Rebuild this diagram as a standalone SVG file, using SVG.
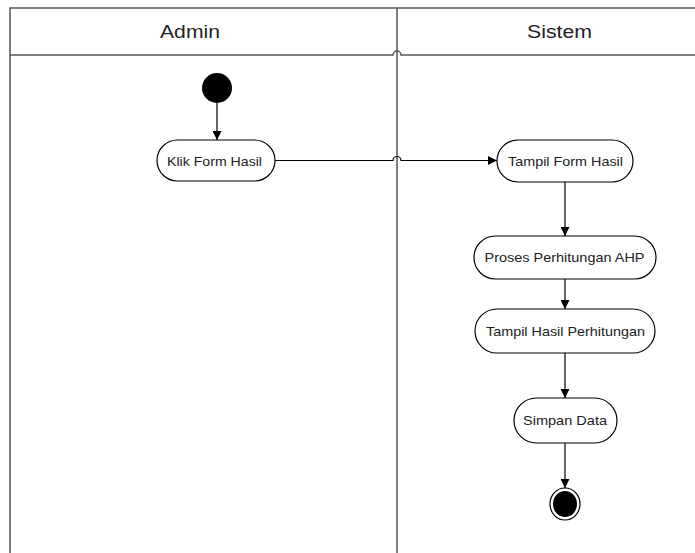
<svg xmlns="http://www.w3.org/2000/svg" width="695" height="553" viewBox="0 0 695 553">
<style>
.lane{fill:none;stroke:#555;stroke-width:1.5}
.node rect{fill:#fff;stroke:#000;stroke-width:1.2}
.node text{font-family:"Liberation Sans",Arial,sans-serif;font-size:13px;fill:#222;text-anchor:middle}
.hdr{font-family:"Liberation Sans",Arial,sans-serif;font-size:18px;fill:#222;text-anchor:middle}
.edge{fill:none;stroke:#000;stroke-width:1.2;marker-end:url(#arr)}
</style>
<defs>
<marker id="arr" viewBox="0 0 10 10" refX="10" refY="5" markerWidth="9" markerHeight="9" markerUnits="userSpaceOnUse" orient="auto">
<path d="M0 0 L10 5 L0 10 Z" fill="#000"/>
</marker>
</defs>
<rect x="0" y="0" width="695" height="553" fill="#fff"/>
<g id="lanes">
<path class="lane" d="M10 553 V8 H695"/>
<path class="lane" d="M10 55 H393 A4 4 0 0 1 401 55 H695"/>
<path class="lane" d="M397 8 V553"/>
<text class="hdr" x="190" y="37.5" textLength="60" lengthAdjust="spacingAndGlyphs">Admin</text>
<text class="hdr" x="559.5" y="37.5" textLength="65" lengthAdjust="spacingAndGlyphs">Sistem</text>
</g>
<g id="connectors">
<path class="edge" d="M217 103 V140"/>
<path class="edge" d="M275 160.5 H393 A4 4 0 0 1 401 160.5 H497"/>
<path class="edge" d="M565 182 V236"/>
<path class="edge" d="M565 279 V309"/>
<path class="edge" d="M565 353 V398"/>
<path class="edge" d="M565 443 V488"/>
</g>
<g id="start"><circle cx="217" cy="88" r="15" fill="#000"/></g>
<g id="klik" class="node"><rect x="157" y="140" width="118" height="41" rx="20.5"/><text x="214.5" y="165.5" textLength="95" lengthAdjust="spacingAndGlyphs">Klik Form Hasil</text></g>
<g id="tampilForm" class="node"><rect x="497" y="140" width="136" height="42" rx="21"/><text x="565.5" y="165.5" textLength="115" lengthAdjust="spacingAndGlyphs">Tampil Form Hasil</text></g>
<g id="proses" class="node"><rect x="474" y="236" width="182" height="43" rx="21.5"/><text x="564.5" y="262" textLength="160" lengthAdjust="spacingAndGlyphs">Proses Perhitungan AHP</text></g>
<g id="tampilHasil" class="node"><rect x="475" y="309" width="180" height="44" rx="22"/><text x="565.5" y="335.5" textLength="159" lengthAdjust="spacingAndGlyphs">Tampil Hasil Perhitungan</text></g>
<g id="simpan" class="node"><rect x="514" y="398" width="103" height="45" rx="22.5"/><text x="565" y="425" textLength="84" lengthAdjust="spacingAndGlyphs">Simpan Data</text></g>
<g id="end"><ellipse cx="565" cy="504" rx="15" ry="16" fill="#fff" stroke="#000" stroke-width="1.2"/><ellipse cx="565" cy="504" rx="12" ry="13" fill="#000"/></g>
</svg>
